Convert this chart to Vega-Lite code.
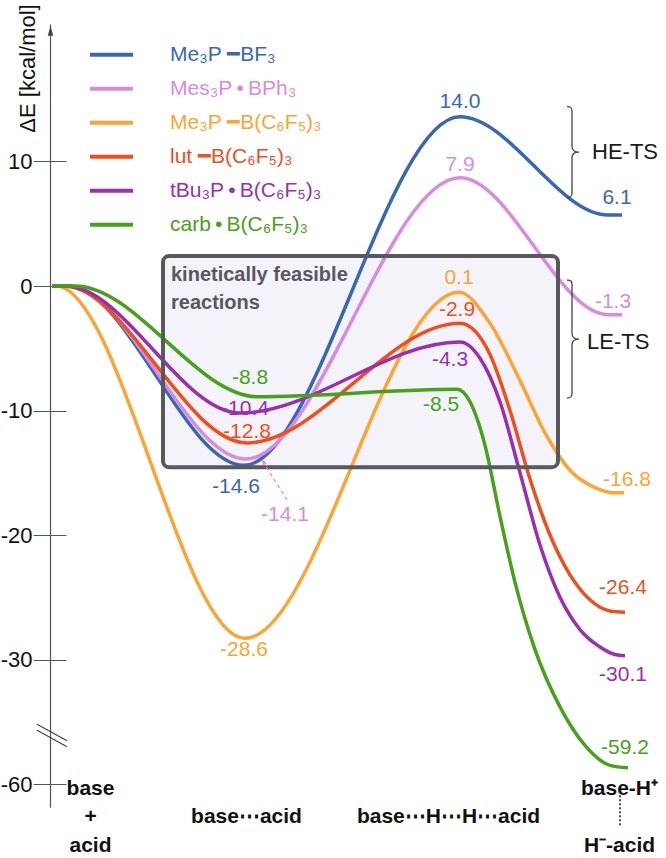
{
  "$schema": "https://vega.github.io/schema/vega-lite/v6.json",
  "width": 666,
  "height": 858,
  "autosize": "none",
  "padding": 0,
  "config": {"view": {"stroke": null}, "font": "Liberation Sans"},
  "datasets": {
    "curves": [
      {"series": "Me\u2083P \u2501BF\u2083", "x": 52, "E": 0},
      {"series": "Me\u2083P \u2501BF\u2083", "x": 68, "E": 0},
      {"series": "Me\u2083P \u2501BF\u2083", "x": 244, "E": -14.4},
      {"series": "Me\u2083P \u2501BF\u2083", "x": 460, "E": 13.6},
      {"series": "Me\u2083P \u2501BF\u2083", "x": 608, "E": 5.7},
      {"series": "Me\u2083P \u2501BF\u2083", "x": 622, "E": 5.7},
      {"series": "Mes\u2083P\u2009\u2022\u2009BPh\u2083", "x": 52, "E": 0},
      {"series": "Mes\u2083P\u2009\u2022\u2009BPh\u2083", "x": 68, "E": 0},
      {"series": "Mes\u2083P\u2009\u2022\u2009BPh\u2083", "x": 246, "E": -13.9},
      {"series": "Mes\u2083P\u2009\u2022\u2009BPh\u2083", "x": 460, "E": 8.7},
      {"series": "Mes\u2083P\u2009\u2022\u2009BPh\u2083", "x": 608, "E": -2.3},
      {"series": "Mes\u2083P\u2009\u2022\u2009BPh\u2083", "x": 622, "E": -2.3},
      {"series": "Me\u2083P \u2501B(C\u2086F\u2085)\u2083", "x": 52, "E": 0},
      {"series": "Me\u2083P \u2501B(C\u2086F\u2085)\u2083", "x": 56, "E": 0},
      {"series": "Me\u2083P \u2501B(C\u2086F\u2085)\u2083", "x": 245, "E": -28.3},
      {"series": "Me\u2083P \u2501B(C\u2086F\u2085)\u2083", "x": 459, "E": -0.5},
      {"series": "Me\u2083P \u2501B(C\u2086F\u2085)\u2083", "x": 490, "E": -3.0},
      {"series": "Me\u2083P \u2501B(C\u2086F\u2085)\u2083", "x": 520, "E": -7.6},
      {"series": "Me\u2083P \u2501B(C\u2086F\u2085)\u2083", "x": 545, "E": -11.8},
      {"series": "Me\u2083P \u2501B(C\u2086F\u2085)\u2083", "x": 570, "E": -14.8},
      {"series": "Me\u2083P \u2501B(C\u2086F\u2085)\u2083", "x": 595, "E": -16.2},
      {"series": "Me\u2083P \u2501B(C\u2086F\u2085)\u2083", "x": 612, "E": -16.6},
      {"series": "Me\u2083P \u2501B(C\u2086F\u2085)\u2083", "x": 624, "E": -16.6},
      {"series": "lut \u2501B(C\u2086F\u2085)\u2083", "x": 52, "E": 0},
      {"series": "lut \u2501B(C\u2086F\u2085)\u2083", "x": 64, "E": 0},
      {"series": "lut \u2501B(C\u2086F\u2085)\u2083", "x": 247, "E": -12.6},
      {"series": "lut \u2501B(C\u2086F\u2085)\u2083", "x": 460, "E": -3.0},
      {"series": "lut \u2501B(C\u2086F\u2085)\u2083", "x": 490, "E": -5.5},
      {"series": "lut \u2501B(C\u2086F\u2085)\u2083", "x": 510, "E": -10.0},
      {"series": "lut \u2501B(C\u2086F\u2085)\u2083", "x": 530, "E": -15.5},
      {"series": "lut \u2501B(C\u2086F\u2085)\u2083", "x": 550, "E": -20.0},
      {"series": "lut \u2501B(C\u2086F\u2085)\u2083", "x": 570, "E": -23.2},
      {"series": "lut \u2501B(C\u2086F\u2085)\u2083", "x": 590, "E": -25.2},
      {"series": "lut \u2501B(C\u2086F\u2085)\u2083", "x": 610, "E": -26.1},
      {"series": "lut \u2501B(C\u2086F\u2085)\u2083", "x": 625, "E": -26.2},
      {"series": "tBu\u2083P\u2009\u2022\u2009B(C\u2086F\u2085)\u2083", "x": 52, "E": 0},
      {"series": "tBu\u2083P\u2009\u2022\u2009B(C\u2086F\u2085)\u2083", "x": 66, "E": 0},
      {"series": "tBu\u2083P\u2009\u2022\u2009B(C\u2086F\u2085)\u2083", "x": 240, "E": -10.2},
      {"series": "tBu\u2083P\u2009\u2022\u2009B(C\u2086F\u2085)\u2083", "x": 460, "E": -4.5},
      {"series": "tBu\u2083P\u2009\u2022\u2009B(C\u2086F\u2085)\u2083", "x": 480, "E": -5.8},
      {"series": "tBu\u2083P\u2009\u2022\u2009B(C\u2086F\u2085)\u2083", "x": 500, "E": -9.3},
      {"series": "tBu\u2083P\u2009\u2022\u2009B(C\u2086F\u2085)\u2083", "x": 520, "E": -15.0},
      {"series": "tBu\u2083P\u2009\u2022\u2009B(C\u2086F\u2085)\u2083", "x": 540, "E": -20.8},
      {"series": "tBu\u2083P\u2009\u2022\u2009B(C\u2086F\u2085)\u2083", "x": 560, "E": -25.0},
      {"series": "tBu\u2083P\u2009\u2022\u2009B(C\u2086F\u2085)\u2083", "x": 580, "E": -27.6},
      {"series": "tBu\u2083P\u2009\u2022\u2009B(C\u2086F\u2085)\u2083", "x": 600, "E": -29.0},
      {"series": "tBu\u2083P\u2009\u2022\u2009B(C\u2086F\u2085)\u2083", "x": 615, "E": -29.6},
      {"series": "tBu\u2083P\u2009\u2022\u2009B(C\u2086F\u2085)\u2083", "x": 625, "E": -29.7},
      {"series": "carb\u2009\u2022\u2009B(C\u2086F\u2085)\u2083", "x": 52, "E": 0},
      {"series": "carb\u2009\u2022\u2009B(C\u2086F\u2085)\u2083", "x": 75, "E": 0},
      {"series": "carb\u2009\u2022\u2009B(C\u2086F\u2085)\u2083", "x": 258, "E": -8.9},
      {"series": "carb\u2009\u2022\u2009B(C\u2086F\u2085)\u2083", "x": 457, "E": -8.3},
      {"series": "carb\u2009\u2022\u2009B(C\u2086F\u2085)\u2083", "x": 470, "E": -9.3},
      {"series": "carb\u2009\u2022\u2009B(C\u2086F\u2085)\u2083", "x": 485, "E": -12.8},
      {"series": "carb\u2009\u2022\u2009B(C\u2086F\u2085)\u2083", "x": 500, "E": -18.5},
      {"series": "carb\u2009\u2022\u2009B(C\u2086F\u2085)\u2083", "x": 515, "E": -23.8},
      {"series": "carb\u2009\u2022\u2009B(C\u2086F\u2085)\u2083", "x": 535, "E": -29.2},
      {"series": "carb\u2009\u2022\u2009B(C\u2086F\u2085)\u2083", "x": 560, "E": -33.8},
      {"series": "carb\u2009\u2022\u2009B(C\u2086F\u2085)\u2083", "x": 585, "E": -36.9},
      {"series": "carb\u2009\u2022\u2009B(C\u2086F\u2085)\u2083", "x": 610, "E": -38.5},
      {"series": "carb\u2009\u2022\u2009B(C\u2086F\u2085)\u2083", "x": 628, "E": -38.7}
    ],
    "vals": [
      {"series": "Me\u2083P \u2501BF\u2083", "x": 460, "E": 14.78, "label": "14.0"},
      {"series": "Mes\u2083P\u2009\u2022\u2009BPh\u2083", "x": 460, "E": 9.72, "label": "7.9"},
      {"series": "Me\u2083P \u2501B(C\u2086F\u2085)\u2083", "x": 459, "E": 0.64, "label": "0.1"},
      {"series": "Me\u2083P \u2501BF\u2083", "x": 617, "E": 7.07, "label": "6.1"},
      {"series": "Mes\u2083P\u2009\u2022\u2009BPh\u2083", "x": 613, "E": -1.29, "label": "-1.3"},
      {"series": "lut \u2501B(C\u2086F\u2085)\u2083", "x": 457, "E": -1.93, "label": "-2.9"},
      {"series": "tBu\u2083P\u2009\u2022\u2009B(C\u2086F\u2085)\u2083", "x": 450, "E": -5.94, "label": "-4.3"},
      {"series": "carb\u2009\u2022\u2009B(C\u2086F\u2085)\u2083", "x": 250, "E": -7.39, "label": "-8.8"},
      {"series": "carb\u2009\u2022\u2009B(C\u2086F\u2085)\u2083", "x": 441, "E": -9.56, "label": "-8.5"},
      {"series": "tBu\u2083P\u2009\u2022\u2009B(C\u2086F\u2085)\u2083", "x": 245, "E": -9.88, "label": "-10.4"},
      {"series": "lut \u2501B(C\u2086F\u2085)\u2083", "x": 247, "E": -11.73, "label": "-12.8"},
      {"series": "Me\u2083P \u2501BF\u2083", "x": 236, "E": -16.14, "label": "-14.6"},
      {"series": "Mes\u2083P\u2009\u2022\u2009BPh\u2083", "x": 285, "E": -18.39, "label": "-14.1"},
      {"series": "Me\u2083P \u2501B(C\u2086F\u2085)\u2083", "x": 244, "E": -29.24, "label": "-28.6"},
      {"series": "Me\u2083P \u2501B(C\u2086F\u2085)\u2083", "x": 627, "E": -15.58, "label": "-16.8"},
      {"series": "lut \u2501B(C\u2086F\u2085)\u2083", "x": 623, "E": -24.26, "label": "-26.4"},
      {"series": "tBu\u2083P\u2009\u2022\u2009B(C\u2086F\u2085)\u2083", "x": 623, "E": -31.24, "label": "-30.1"},
      {"series": "carb\u2009\u2022\u2009B(C\u2086F\u2085)\u2083", "x": 625, "E": -37.11, "label": "-59.2"}
    ]
  },
  "encoding": {
    "x": {
      "field": "x", "type": "quantitative",
      "scale": {"domain": [0, 666], "nice": false, "zero": false},
      "axis": {
        "orient": "bottom", "offset": -70, "domain": false, "ticks": false, "grid": false,
        "values": [90, 246, 448, 619],
        "labelExpr": "datum.value == 90 ? ['base','+','acid'] : datum.value == 246 ? ['\u200b', 'base\u22efacid'] : datum.value == 448 ? ['\u200b', 'base\u22efH\u22efH\u22efacid'] : ['base-H\u207a','\u200b','H\u207b-acid']",
        "labelFontSize": 21, "labelFontWeight": "bold", "labelBaseline": "middle", "labelPadding": 0,
        "labelLineHeight": 28.5, "labelColor": "#111111", "labelAngle": 0, "labelOverlap": false, "labelFlush": false, "labelBound": false, "labelLimit": 0,
        "title": null
      }
    },
    "y": {
      "field": "E", "type": "quantitative",
      "scale": {"domain": [-45.94, 22.97], "nice": false, "zero": false},
      "axis": {
        "orient": "left", "offset": -66, "domain": false, "grid": false,
        "tickSize": 33, "tickColor": "#555555", "tickWidth": 1.2,
        "values": [10, 0, -10, -20, -30, -40],
        "labelExpr": "datum.value == -40 ? '-60' : '' + datum.value",
        "labelFontSize": 22, "labelPadding": 1, "labelColor": "#111111", "labelBaseline": "middle",
        "title": "\u0394E [kcal/mol]", "titleFontSize": 22, "titleFontWeight": "normal", "titleColor": "#111111",
        "titleX": -39, "titleY": 68, "titleAngle": -90, "titleAlign": "center", "titleBaseline": "middle"
      }
    }
  },
  "layer": [
    {
      "data": {"values": [{"x": 163, "x2": 558, "E": 2.4, "E2": -14.55}]},
      "mark": {"type": "rect", "fill": "#f3f3f9", "cornerRadius": 6},
      "encoding": {"x2": {"field": "x2"}, "y2": {"field": "E2"}}
    },
    {
      "data": {"values": [{"x": 50.5, "E": 21, "E2": -41.9}]},
      "mark": {"type": "rule", "color": "#555555", "strokeWidth": 1.2},
      "encoding": {"y2": {"field": "E2"}}
    },
    {
      "data": {"values": [{"x": 620, "E": -40.9, "E2": -43.3}]},
      "mark": {"type": "rule", "color": "#222222", "strokeWidth": 1.6, "strokeDash": [2, 2]},
      "encoding": {"y2": {"field": "E2"}}
    },
    {
      "data": {"values": [{"x": 50.5, "E": 20.5}]},
      "mark": {"type": "point", "shape": "M0,-1L0.55,1L-0.55,1Z", "size": 100, "filled": true, "color": "#444444", "opacity": 1}
    },
    {
      "data": {"values": [{"x": 52, "E": -36.1}]},
      "mark": {"type": "point", "shape": "M-1,-0.75L1,0.35M-1,-0.35L1,0.75", "size": 900, "filled": false, "color": "#444444", "strokeWidth": 1.2, "opacity": 1}
    },
    {
      "data": {"name": "curves"},
      "mark": {"type": "line", "interpolate": "monotone", "strokeWidth": 3.5},
      "encoding": {
        "color": {
          "field": "series", "type": "nominal",
          "scale": {
            "domain": ["Me\u2083P \u2501BF\u2083", "Mes\u2083P\u2009\u2022\u2009BPh\u2083", "Me\u2083P \u2501B(C\u2086F\u2085)\u2083", "lut \u2501B(C\u2086F\u2085)\u2083", "tBu\u2083P\u2009\u2022\u2009B(C\u2086F\u2085)\u2083", "carb\u2009\u2022\u2009B(C\u2086F\u2085)\u2083"],
            "range": ["#3867b3", "#d68ddf", "#fca435", "#ee4f1c", "#9a2fb1", "#48a11a"]
          },
          "legend": {
            "title": null, "orient": "none", "legendX": 88, "legendY": 38,
            "symbolType": "stroke", "symbolSize": 1849, "symbolStrokeWidth": 4,
            "clipHeight": 33.6, "rowPadding": 0, "padding": 0,
            "labelFontSize": 21, "labelFont": "Liberation Sans", "labelOffset": 35, "labelLimit": 0,
            "encode": {"labels": {"update": {"fill": {"signal": "scale('color', datum.value)"}}}}
          }
        }
      }
    },
    {
      "data": {"values": [{"x": 163, "x2": 558, "E": 2.4, "E2": -14.55}]},
      "mark": {"type": "rect", "filled": false, "stroke": "#58585d", "strokeWidth": 4, "cornerRadius": 6},
      "encoding": {"x2": {"field": "x2"}, "y2": {"field": "E2"}}
    },
    {
      "data": {"name": "vals"},
      "mark": {"type": "text", "fontSize": 21, "align": "center", "baseline": "middle"},
      "encoding": {
        "text": {"field": "label"},
        "color": {"field": "series", "type": "nominal", "legend": null}
      }
    },
    {
      "data": {"values": [{"x": 171, "E": 0.88, "t": "kinetically feasible"}, {"x": 171, "E": -1.37, "t": "reactions"}]},
      "mark": {"type": "text", "fontSize": 20, "fontWeight": "bold", "align": "left", "baseline": "middle", "color": "#58585d"},
      "encoding": {"text": {"field": "t"}}
    },
    {
      "data": {"values": [{"x": 592, "E": 10.76, "t": "HE-TS"}, {"x": 587, "E": -4.5, "t": "LE-TS"}]},
      "mark": {"type": "text", "fontSize": 22, "align": "left", "baseline": "middle", "color": "#1a1a1a"},
      "encoding": {"text": {"field": "t"}}
    },
    {
      "data": {"values": [{"x": 572, "E": 10.76}]},
      "mark": {"type": "point", "shape": "M-0.11,-1C-0.02,-1 0,-0.97 0,-0.9L0,-0.12C0,-0.04 0.06,0 0.154,0C0.06,0 0,0.04 0,0.12L0,0.9C0,0.97 -0.02,1 -0.11,1", "size": 8281, "filled": false, "color": "#444444", "strokeWidth": 1.3, "opacity": 1}
    },
    {
      "data": {"values": [{"x": 572, "E": -4.26}]},
      "mark": {"type": "point", "shape": "M-0.085,-1C-0.015,-1 0,-0.975 0,-0.92L0,-0.1C0,-0.03 0.045,0 0.119,0C0.045,0 0,0.03 0,0.1L0,0.92C0,0.975 -0.015,1 -0.085,1", "size": 13924, "filled": false, "color": "#444444", "strokeWidth": 1.3, "opacity": 1}
    },
    {
      "data": {"values": [{"x": 287, "E": -17.19, "x2": 265, "E2": -14.38}]},
      "mark": {"type": "rule", "color": "#d68ddf", "strokeWidth": 1.2, "strokeDash": [4, 3]},
      "encoding": {"x2": {"field": "x2"}, "y2": {"field": "E2"}}
    },
    {
      "data": {"values": [{"x": 263.5, "E": -14.14}]},
      "mark": {"type": "point", "shape": "M0,-1L0.6,0.8L-0.6,0.8Z", "size": 50, "filled": true, "color": "#d68ddf", "angle": 328, "opacity": 1}
    }
  ]
}
